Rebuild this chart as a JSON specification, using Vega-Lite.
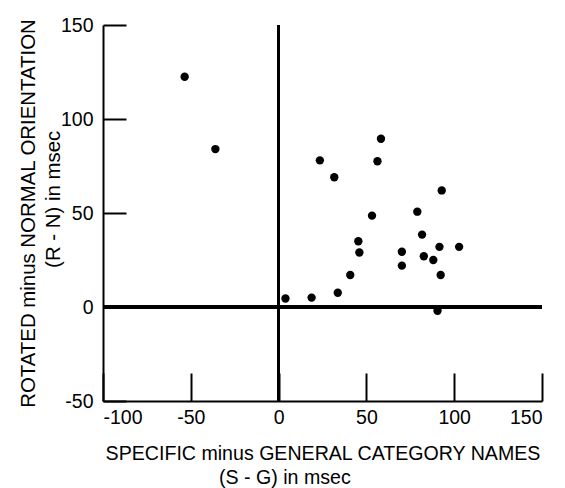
{
  "$schema": "https://vega.github.io/schema/vega-lite/v6.json",
  "width": 439,
  "height": 376,
  "autosize": "none",
  "padding": {"left": 103, "top": 25, "right": 23, "bottom": 87},
  "background": "white",
  "config": {
    "view": {"stroke": null},
    "font": "Liberation Sans",
    "axis": {
      "grid": false,
      "domainColor": "black",
      "domainWidth": 2,
      "tickColor": "black",
      "tickWidth": 2,
      "labelColor": "black",
      "labelFont": "Liberation Sans",
      "labelFontSize": 19.5,
      "titleFont": "Liberation Sans",
      "titleFontWeight": "normal",
      "titleColor": "black"
    }
  },
  "data": {
    "values": [
      {"sg": -53.5, "rn": 122.5},
      {"sg": -36, "rn": 84},
      {"sg": 3.9, "rn": 4.5},
      {"sg": 18.8, "rn": 5},
      {"sg": 33.7, "rn": 7.6},
      {"sg": 40.8, "rn": 17},
      {"sg": 45.4, "rn": 35},
      {"sg": 46, "rn": 29},
      {"sg": 23.5, "rn": 78},
      {"sg": 31.7, "rn": 69},
      {"sg": 53.2, "rn": 48.6},
      {"sg": 56.3, "rn": 77.5},
      {"sg": 58.3, "rn": 89.5},
      {"sg": 70.2, "rn": 29.4},
      {"sg": 70.2, "rn": 22},
      {"sg": 79, "rn": 50.7},
      {"sg": 81.7, "rn": 38.5},
      {"sg": 82.7, "rn": 27},
      {"sg": 88.1, "rn": 25},
      {"sg": 91.6, "rn": 32},
      {"sg": 92.9, "rn": 62},
      {"sg": 92.3, "rn": 17},
      {"sg": 90.5, "rn": -2},
      {"sg": 102.8, "rn": 32}
    ]
  },
  "layer": [
    {
      "mark": {"type": "rule", "color": "black", "strokeWidth": 2.5},
      "encoding": {"x": {"datum": 0, "type": "quantitative"}}
    },
    {
      "mark": {"type": "rule", "color": "black", "strokeWidth": 2.5},
      "encoding": {"y": {"datum": 0, "type": "quantitative"}}
    },
    {
      "mark": {"type": "circle", "color": "black", "opacity": 1, "size": 70},
      "encoding": {
        "x": {
          "field": "sg",
          "type": "quantitative",
          "scale": {"domain": [-100, 150], "nice": false, "zero": false},
          "axis": {
            "values": [-100, -50, 0, 50, 100, 150],
            "labelExpr": "toString(datum.value)",
            "tickSize": -28,
            "labelPadding": 35,
            "labelFontSize": 19.5,
            "title": ["SPECIFIC minus GENERAL CATEGORY NAMES", "(S - G) in msec\u00a0\u00a0\u00a0\u00a0\u00a0\u00a0\u00a0\u00a0\u00a0\u00a0\u00a0\u00a0\u00a0\u00a0\u200b"],
            "titleFontSize": 19.6,
            "titleLineHeight": 24,
            "titlePadding": 18
          }
        },
        "y": {
          "field": "rn",
          "type": "quantitative",
          "scale": {"domain": [-50, 150], "nice": false, "zero": false},
          "axis": {
            "values": [-50, 0, 50, 100, 150],
            "labelExpr": "toString(datum.value)",
            "tickSize": -23,
            "labelPadding": 33,
            "labelFontSize": 19.5,
            "title": ["ROTATED minus NORMAL ORIENTATION", "\u200b\u00a0\u00a0\u00a0\u00a0\u00a0(R - N) in msec"],
            "titleFontSize": 20.4,
            "titleLineHeight": 25,
            "titlePadding": -3
          }
        }
      }
    }
  ]
}
